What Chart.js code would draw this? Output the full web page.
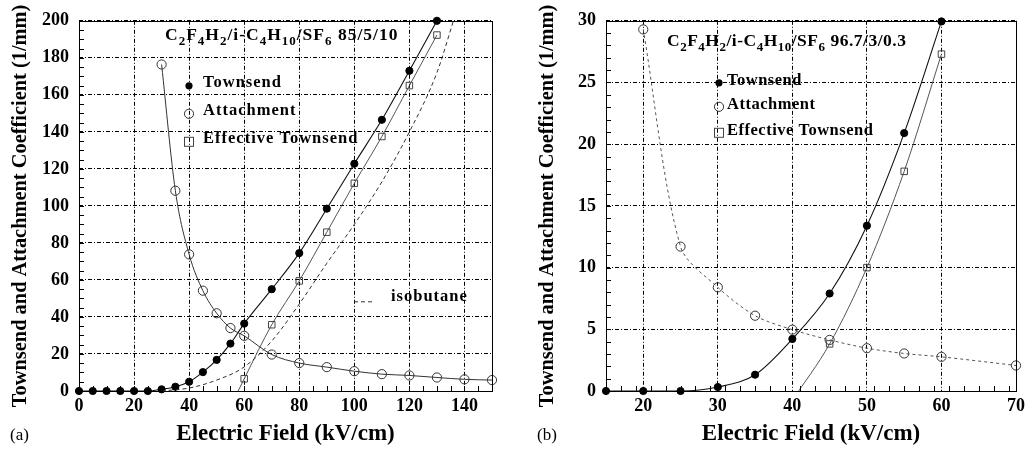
<!DOCTYPE html>
<html><head><meta charset="utf-8">
<script src="https://cdn.jsdelivr.net/npm/chart.js@4/dist/chart.umd.min.js"></script>
<style>
html,body{margin:0;padding:0;background:#fff;}
#wrap{position:relative;width:1030px;height:452px;overflow:hidden;}
.pane{position:absolute;top:0;width:515px;height:452px;}
</style></head><body>
<div id="wrap">
  <div class="pane" style="left:0"><canvas id="chartA"></canvas></div>
  <div class="pane" style="left:515px"><canvas id="chartB"></canvas></div>
</div>
<script>
const SERIF='"Liberation Serif","DejaVu Serif",serif';

// ===== (a) C2F4H2/i-C4H10/SF6 85/5/10 =====
const A_TOWN_X=[0,5,10,15,20,25,30,35,40,45,50,55,60,70,80,90,100,110,120,130];
const A_TOWN  =[0,0,0,0,0,0,0.9,2.3,5,10.2,16.8,25.6,36.4,55,74.5,98.5,122.8,146.5,173,200];
const A_ATT_X =[30,35,40,45,50,55,60,70,80,90,100,110,120,130,140,150];
const A_ATT   =[176.4,108.2,73.8,54.2,42,34,29.8,19.7,15.1,12.9,10.7,9.1,8.4,7.3,6.3,5.9];
const A_EFF_X =[55,60,70,80,90,100,110,120,130];
const A_EFF   =[-8.4,6.6,35.8,59.5,85.8,112.2,137.5,165,192.3];
const A_ISO_X =[30,40,50,60,70,80,90,100,110,120,130,136];
const A_ISO   =[0,1.6,5.9,13,27,47,69,90,113,140,172,200];

// ===== (b) C2F4H2/i-C4H10/SF6 96.7/3/0.3 =====
const B_TOWN_X=[15,20,25,30,35,40,45,50,55,60];
const B_TOWN  =[0,0,0,0.32,1.32,4.22,7.9,13.4,20.9,29.95];
const B_ATT_X =[20,25,30,35,40,45,50,55,60,70];
const B_ATT   =[29.3,11.7,8.4,6.1,4.97,4.14,3.47,3.04,2.77,2.07];
const B_EFF_X =[40,45,50,55,60];
const B_EFF   =[-0.75,3.82,10.0,17.8,27.3];

const X_TITLE='Electric Field (kV/cm)';
const Y_TITLE='Townsend and Attachment Coefficient (1/mm)';
const A_GAS=[['C',0],['2',1],['F',0],['4',1],['H',0],['2',1],['/i-C',0],['4',1],['H',0],['10',1],['/SF',0],['6',1],[' 85/5/10',0]];
const B_GAS=[['C',0],['2',1],['F',0],['4',1],['H',0],['2',1],['/i-C',0],['4',1],['H',0],['10',1],['/SF',0],['6',1],[' 96.7/3/0.3',0]];

const pts=(xs,ys)=>xs.map((x,i)=>({x,y:ys[i]}));
const hideNeg=r=>c=>(c.raw&&c.raw.y<0)?0:r;

// marker styles shared by lines and the in-plot legend
const STY={
  dot:{pointStyle:'circle',pointRadius:hideNeg(3.6),pointBackgroundColor:'#000',pointBorderColor:'#000',pointBorderWidth:1},
  circ:{pointStyle:'circle',pointRadius:hideNeg(4.6),pointBackgroundColor:'rgba(0,0,0,0)',pointBorderColor:'#333',pointBorderWidth:1},
  sq:{pointStyle:'rect',pointRadius:hideNeg(4.6),pointBackgroundColor:'rgba(0,0,0,0)',pointBorderColor:'#444',pointBorderWidth:1}
};
const EDGE={left:8,right:8,top:8,bottom:8};
const NOBOT={left:8,right:8,top:8,bottom:0};

function drawMarker(ctx,kind,x,y){
  ctx.save();ctx.lineWidth=1;
  if(kind==='dot'){ctx.fillStyle='#000';ctx.beginPath();ctx.arc(x,y,3.6,0,Math.PI*2);ctx.fill();}
  else if(kind==='circ'){ctx.strokeStyle='#333';ctx.beginPath();ctx.arc(x,y,4.6,0,Math.PI*2);ctx.stroke();}
  else if(kind==='sq'){ctx.strokeStyle='#444';ctx.strokeRect(x-4.5,y-4.5,9,9);}
  else if(kind==='dash'){ctx.strokeStyle='#333';ctx.setLineDash([4,3]);ctx.beginPath();ctx.moveTo(x,y);ctx.lineTo(x+19,y);ctx.stroke();}
  ctx.restore();
}
function richText(ctx,parts,x,y,size){
  for(const [t,sub] of parts){
    const s=sub?Math.round(size*0.72):size;
    ctx.font=`bold ${s}px ${SERIF}`;
    ctx.fillText(t,x,y+(sub?size*0.3:0));
    x+=ctx.measureText(t).width;
  }
}

// ===== frame, inner minor ticks, in-plot legend =====
const decor={
  id:'decor',
  afterDraw(chart,args,o){
    const {ctx,chartArea:a,scales:{x,y}}=chart;
    ctx.save();
    ctx.strokeStyle='#000';ctx.lineWidth=1;
    ctx.beginPath();
    for(let v=x.min;v<=x.max+1e-9;v+=o.minorX){
      const px=Math.round(x.getPixelForValue(v))+0.5;
      ctx.moveTo(px,a.bottom);ctx.lineTo(px,a.bottom-5);
    }
    for(let v=y.min;v<=y.max+1e-9;v+=o.minorY){
      const py=Math.round(y.getPixelForValue(v))+0.5;
      ctx.moveTo(a.left,py);ctx.lineTo(a.left+5,py);
    }
    ctx.stroke();
    ctx.strokeRect(Math.round(a.left)+0.5,Math.round(a.top)+0.5,Math.round(a.right-a.left),Math.round(a.bottom-a.top));
    ctx.fillStyle='#000';ctx.textBaseline='alphabetic';ctx.textAlign='left';
    ctx.letterSpacing=o.spacing;
    richText(ctx,o.gas,a.left+o.gasX,a.top+o.gasY,17.5);
    for(const e of o.items){
      drawMarker(ctx,e.m,a.left+e.mx,a.top+e.my);
      ctx.font=`bold 16.5px ${SERIF}`;
      ctx.fillText(e.t,a.left+e.tx,a.top+e.ty);
    }
    ctx.letterSpacing='0px';
    ctx.font=`17px ${SERIF}`;
    ctx.fillText(o.panel,o.panelX,440);
    ctx.restore();
  }
};
Chart.register(decor);

function axis(min,max,step,title,isX){
  return {
    type:'linear',min,max,
    afterFit:s=>{if(isX)s.height=61;else s.width=79;},
    ticks:{stepSize:step,includeBounds:false,maxRotation:0,autoSkip:false,color:'#000',
      padding:isX?5:10,font:{family:SERIF,size:18,weight:'bold'}},
    grid:{color:'#000',lineWidth:1,drawTicks:false},
    border:{display:false,dash:[4,2,1,2]},
    title:{display:true,text:title,color:'#000',
      font:{family:SERIF,size:isX?23:20.4,weight:'bold'},
      padding:isX?{top:0,bottom:4}:{top:8,bottom:0}}
  };
}

function makeChart(id,datasets,pad,xr,yr,decorOpts){
  return new Chart(document.getElementById(id),{
    type:'line',
    data:{datasets},
    options:{
      responsive:true,maintainAspectRatio:false,animation:false,
      layout:{padding:pad},
      elements:{line:{cubicInterpolationMode:'monotone'}},
      plugins:{legend:{display:false},tooltip:{enabled:false},decor:decorOpts},
      scales:{x:axis(xr[0],xr[1],xr[2],X_TITLE,true),y:axis(yr[0],yr[1],yr[2],Y_TITLE,false)}
    }
  });
}

makeChart('chartA',[
  {label:'isobutane',data:pts(A_ISO_X,A_ISO),borderColor:'#333',borderWidth:1,borderDash:[4,3],pointRadius:0,clip:NOBOT},
  {label:'Attachment',data:pts(A_ATT_X,A_ATT),borderColor:'#333',borderWidth:1,clip:EDGE,...STY.circ},
  {label:'Effective Townsend',data:pts(A_EFF_X,A_EFF),borderColor:'#555',borderWidth:1,clip:NOBOT,...STY.sq},
  {label:'Townsend',data:pts(A_TOWN_X,A_TOWN),borderColor:'#111',borderWidth:1.1,clip:EDGE,...STY.dot}
],{left:0,top:18,right:23,bottom:0},[0,150,20],[0,200,20],{
  minorX:5,minorY:5,gas:A_GAS,gasX:86,gasY:19,panel:'(a)',panelX:10,spacing:'1px',
  items:[
    {m:'dot',mx:110,my:65,tx:124,ty:66,t:'Townsend'},
    {m:'circ',mx:110,my:93,tx:124,ty:94,t:'Attachment'},
    {m:'sq',mx:110,my:121,tx:124,ty:122,t:'Effective Townsend'},
    {m:'dash',mx:275,my:281,tx:312,ty:280,t:'isobutane'}
  ]
});

makeChart('chartB',[
  {label:'Attachment',data:pts(B_ATT_X,B_ATT),borderColor:'#555',borderWidth:1,borderDash:[3,3],clip:EDGE,
   cubicInterpolationMode:'default',tension:0.3,...STY.circ},
  {label:'Effective Townsend',data:pts(B_EFF_X,B_EFF),borderColor:'#555',borderWidth:1,clip:NOBOT,...STY.sq},
  {label:'Townsend',data:pts(B_TOWN_X,B_TOWN),borderColor:'#111',borderWidth:1.1,clip:EDGE,...STY.dot}
],{left:12,top:18,right:11,bottom:0},[15,70,10],[0,30,5],{
  minorX:2,minorY:1,gas:B_GAS,gasX:61,gasY:25,panel:'(b)',panelX:22,spacing:'0.5px',
  items:[
    {m:'dot',mx:113,my:62,tx:121,ty:64,t:'Townsend'},
    {m:'circ',mx:113,my:86,tx:121,ty:88,t:'Attachment'},
    {m:'sq',mx:113,my:112,tx:121,ty:114,t:'Effective Townsend'}
  ]
});
</script>
</body></html>
